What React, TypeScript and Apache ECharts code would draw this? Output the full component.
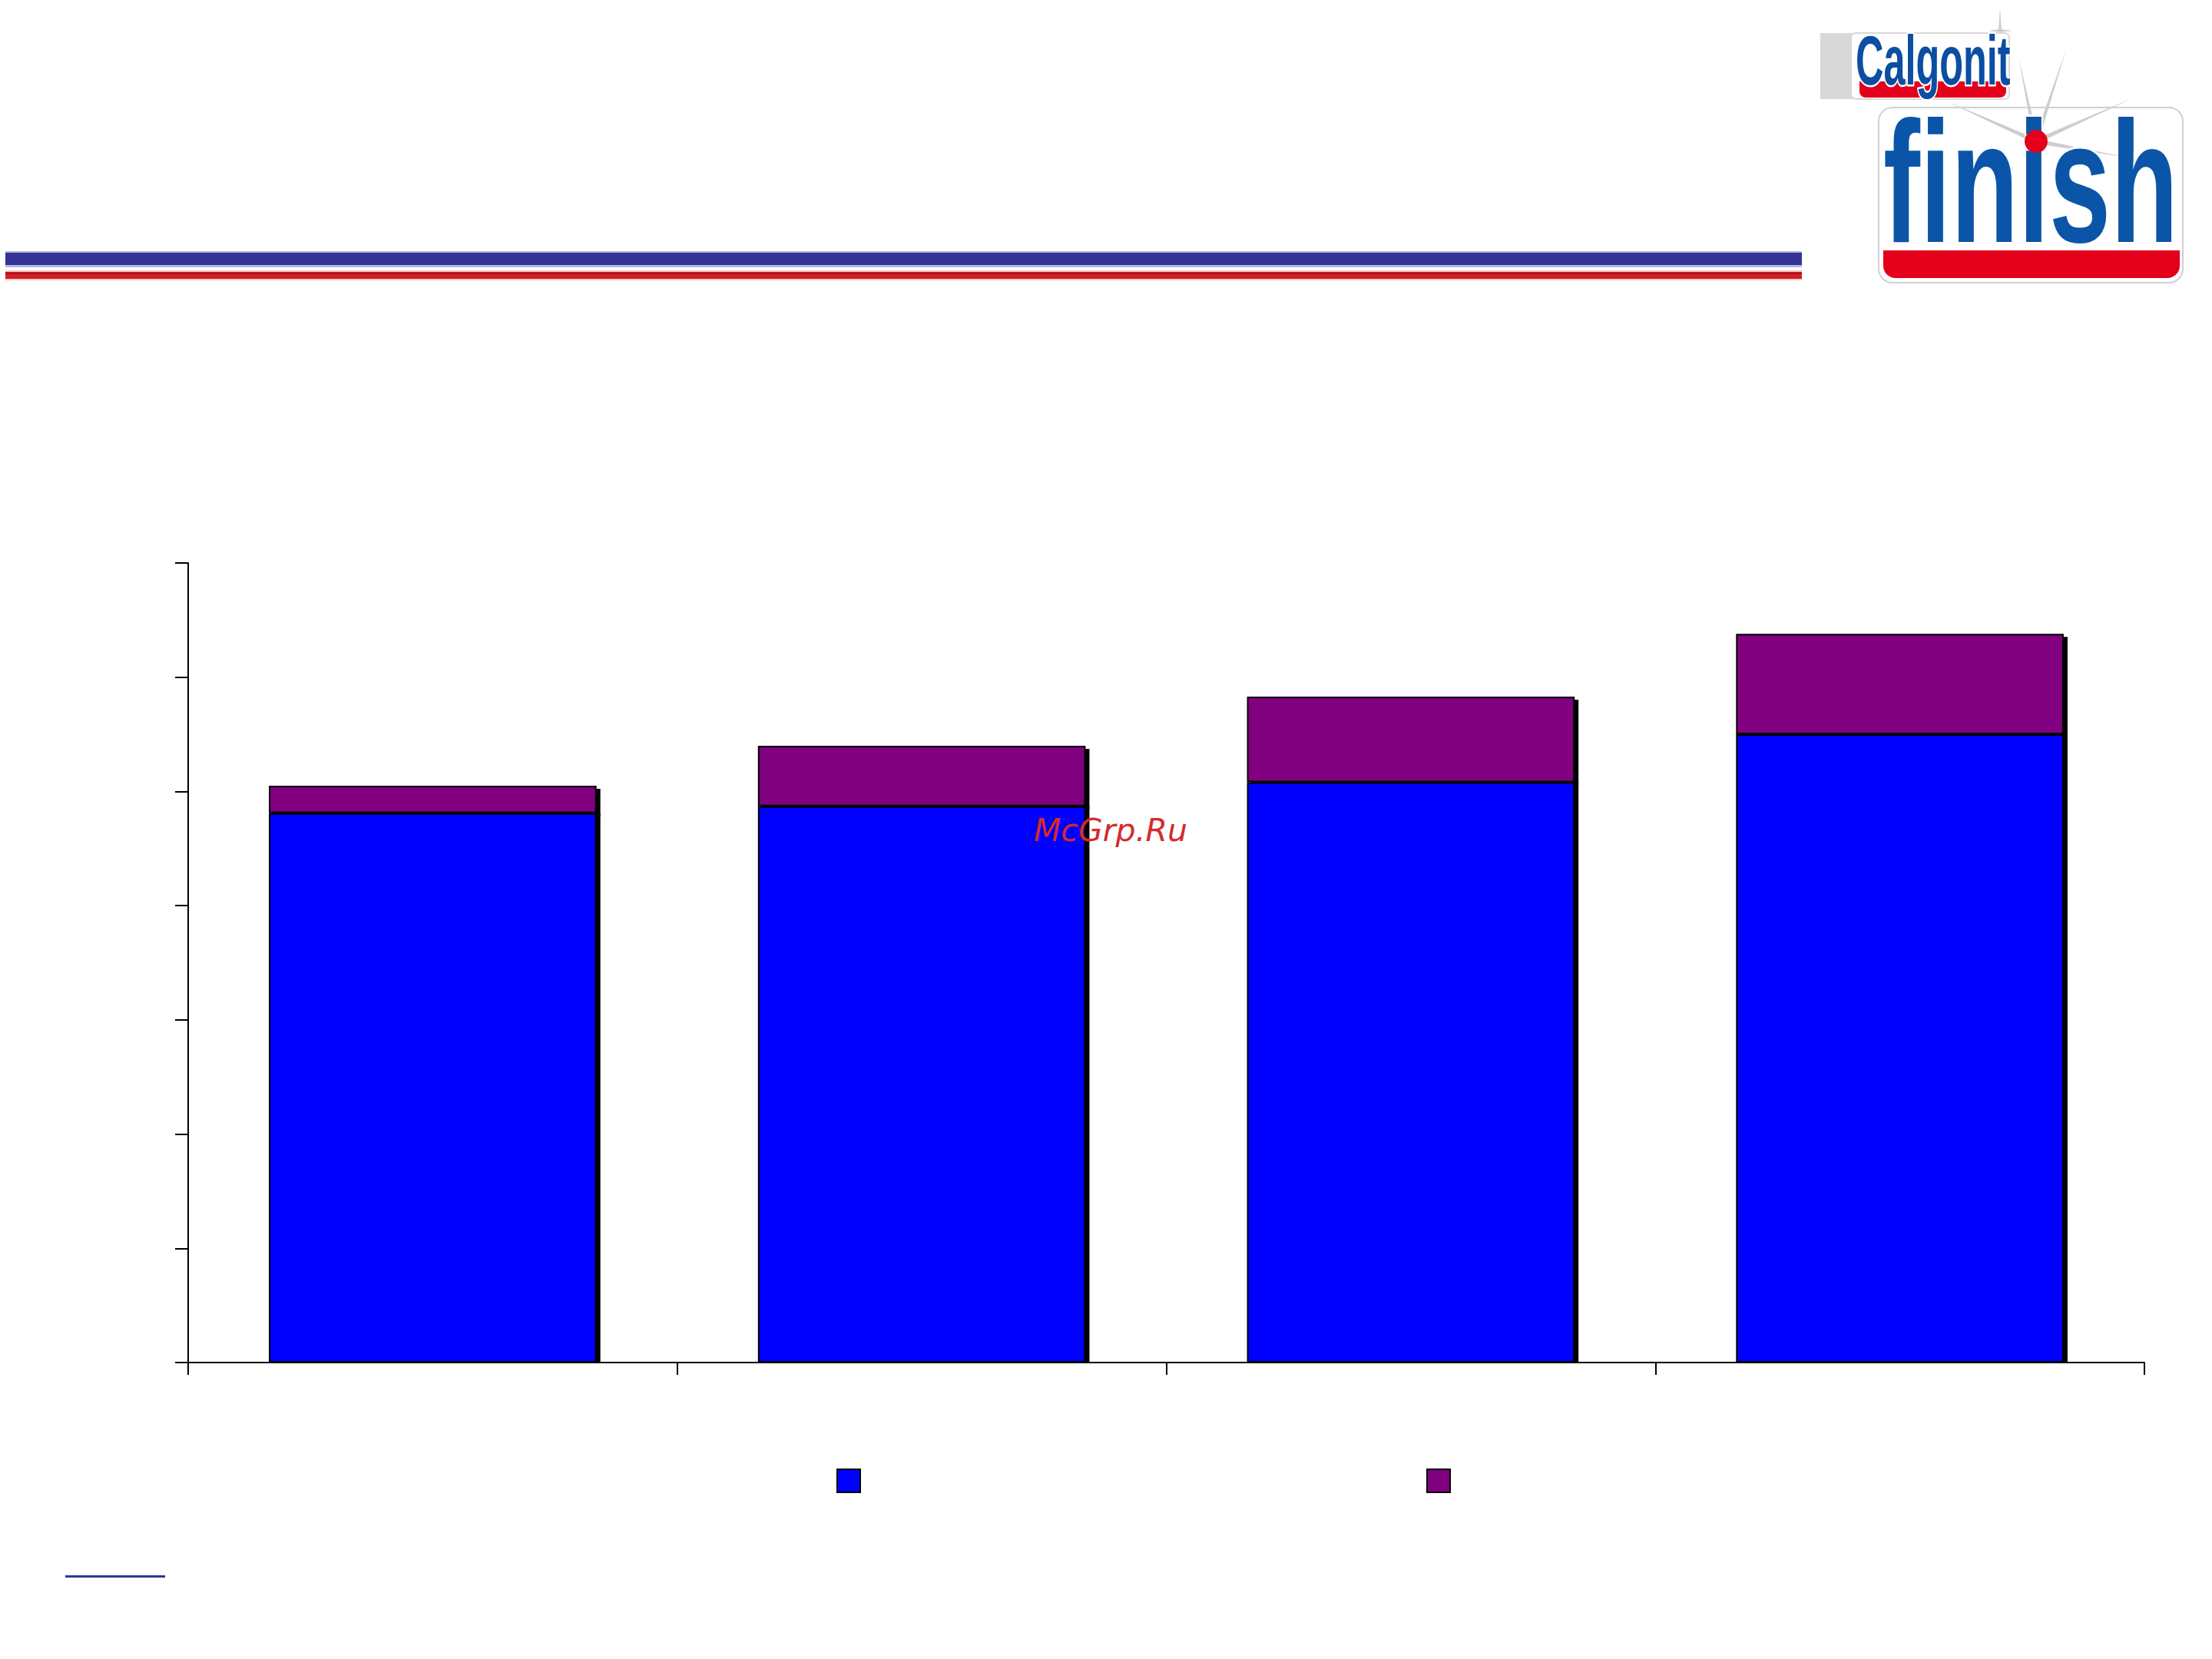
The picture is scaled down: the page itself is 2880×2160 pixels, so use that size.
import React, { useEffect, useRef } from "react";
import * as echarts from "echarts";

const categories = ["1", "2", "3", "4"];
const seriesNames = ["Series 1", "Series 2"];
const baseValues = [4.81, 4.87, 5.08, 5.5];
const topValues = [0.24, 0.53, 0.75, 0.88];
const yMin = 0;
const yMax = 7;
const yInterval = 1;

export default function App() {
  const ref = useRef<HTMLDivElement>(null);
  useEffect(() => {
    if (!ref.current) return;
    const chart = echarts.init(ref.current, null, { renderer: "svg" });
    const makeRays = (cx: number, cy: number, ends: [number, number][], w: number, z: number) =>
      ends.map(([ex, ey]) => {
        const dx = ex - cx, dy = ey - cy;
        const len = Math.sqrt(dx * dx + dy * dy);
        const nx = (-dy / len) * w, ny = (dx / len) * w;
        return {
          type: "polygon",
          shape: { points: [[cx + nx, cy + ny], [ex, ey], [cx - nx, cy - ny]] },
          style: { fill: "#cdcdcd" },
          z
        };
      });
    const bigRays = makeRays(2651, 184, [[2776, 128], [2535, 132], [2628, 75], [2690, 65], [2770, 205]], 3, 5);
    const smallRays = makeRays(2604, 40, [[2604, 10], [2604, 70], [2588, 40], [2620, 40]], 2, 0);
    chart.setOption({
      animation: false,
      backgroundColor: "#ffffff",
      grid: { left: 245, right: 88, top: 733, bottom: 386 },
      xAxis: {
        type: "category",
        data: categories,
        axisLine: { show: true, lineStyle: { color: "#000", width: 2 } },
        axisTick: { show: true, length: 16, lineStyle: { color: "#000", width: 2 } },
        axisLabel: { show: false },
        splitLine: { show: false }
      },
      yAxis: {
        type: "value",
        min: yMin,
        max: yMax,
        interval: yInterval,
        axisLine: { show: true, lineStyle: { color: "#000", width: 2 } },
        axisTick: { show: true, length: 17, lineStyle: { color: "#000", width: 2 } },
        axisLabel: { show: false },
        splitLine: { show: false }
      },
      legend: {
        left: 1084,
        top: 1907,
        itemWidth: 30,
        itemHeight: 30,
        itemGap: 736,
        icon: "rect",
        formatter: () => "",
        itemStyle: {
          borderColor: "#000",
          borderWidth: 2,
          shadowBlur: 0,
          shadowOffsetX: 0,
          shadowOffsetY: 0,
          shadowColor: "transparent"
        },
        data: seriesNames
      },
      series: [
        {
          name: seriesNames[0],
          type: "bar",
          stack: "total",
          data: baseValues,
          barCategoryGap: "33%",
          z: 3,
          itemStyle: {
            color: "#0000ff",
            borderColor: "#000",
            borderWidth: 2,
            shadowColor: "#000",
            shadowBlur: 0,
            shadowOffsetX: 5,
            shadowOffsetY: 0
          }
        },
        {
          name: seriesNames[1],
          type: "bar",
          stack: "total",
          data: topValues,
          z: 2,
          itemStyle: {
            color: "#800080",
            borderColor: "#000",
            borderWidth: 2,
            shadowColor: "#000",
            shadowBlur: 0,
            shadowOffsetX: 5,
            shadowOffsetY: 4
          }
        }
      ],
      graphic: [
        { type: "rect", shape: { x: 7, y: 327, width: 2339, height: 21 }, style: { fill: "#b8b8dc" }, z: 1 },
        { type: "rect", shape: { x: 7, y: 329, width: 2339, height: 16 }, style: { fill: "#333399" }, z: 1 },
        { type: "rect", shape: { x: 7, y: 352, width: 2339, height: 13 }, style: { fill: "#f4c8c8" }, z: 1 },
        { type: "rect", shape: { x: 7, y: 354, width: 2339, height: 9 }, style: { fill: "#d21f26" }, z: 1 },
        { type: "rect", shape: { x: 7, y: 355, width: 2339, height: 2 }, style: { fill: "#a8141a" }, z: 1 },
        ...smallRays,
        { type: "rect", shape: { x: 2370, y: 43, width: 60, height: 86 }, style: { fill: "#d8d8d8" }, z: 1 },
        { type: "rect", shape: { x: 2410, y: 43, width: 206, height: 86, r: 6 }, style: { fill: "#ffffff", stroke: "#d8d8d8", lineWidth: 2 }, z: 1 },
        { type: "rect", shape: { x: 2421, y: 106, width: 191, height: 21, r: [0, 0, 8, 8] }, style: { fill: "#e2001a" }, z: 2 },
        {
          type: "text", x: 2416, y: 79, scaleX: 0.56, z: 3,
          style: { text: "Calgonit", font: "bold 90px 'Liberation Sans'", fill: "#0b4ea2", stroke: "#ffffff", lineWidth: 5, verticalAlign: "middle", align: "left" }
        },
        { type: "rect", shape: { x: 2446, y: 140, width: 396, height: 228, r: 18 }, style: { fill: "#ffffff", stroke: "#d0d0d0", lineWidth: 2 }, z: 1 },
        ...bigRays,
        { type: "rect", shape: { x: 2452, y: 326, width: 386, height: 36, r: [0, 0, 16, 16] }, style: { fill: "#e2001a" }, z: 2 },
        {
          type: "text", x: 2452, y: 237, scaleX: 0.64, z: 6,
          style: { text: "finish", font: "bold 225px 'Liberation Sans'", fill: "#0b55a8", stroke: "#ffffff", lineWidth: 6, verticalAlign: "middle", align: "left" }
        },
        { type: "circle", shape: { cx: 2651, cy: 184, r: 15 }, style: { fill: "#e2001a" }, z: 7 },
        {
          type: "text", x: 1346, y: 1081, z: 10,
          style: { text: "McGrp.Ru", font: "oblique 41px 'DejaVu Sans'", fill: "#d62a2a", verticalAlign: "middle", align: "left" }
        },
        { type: "rect", shape: { x: 85, y: 2051, width: 130, height: 3 }, style: { fill: "#333399" }, z: 1 }
      ]
    });
    return () => chart.dispose();
  }, []);
  return (
    <div
      ref={ref}
      style={{ position: "absolute", left: 0, top: 0, width: 2880, height: 2160 }}
    />
  );
}
